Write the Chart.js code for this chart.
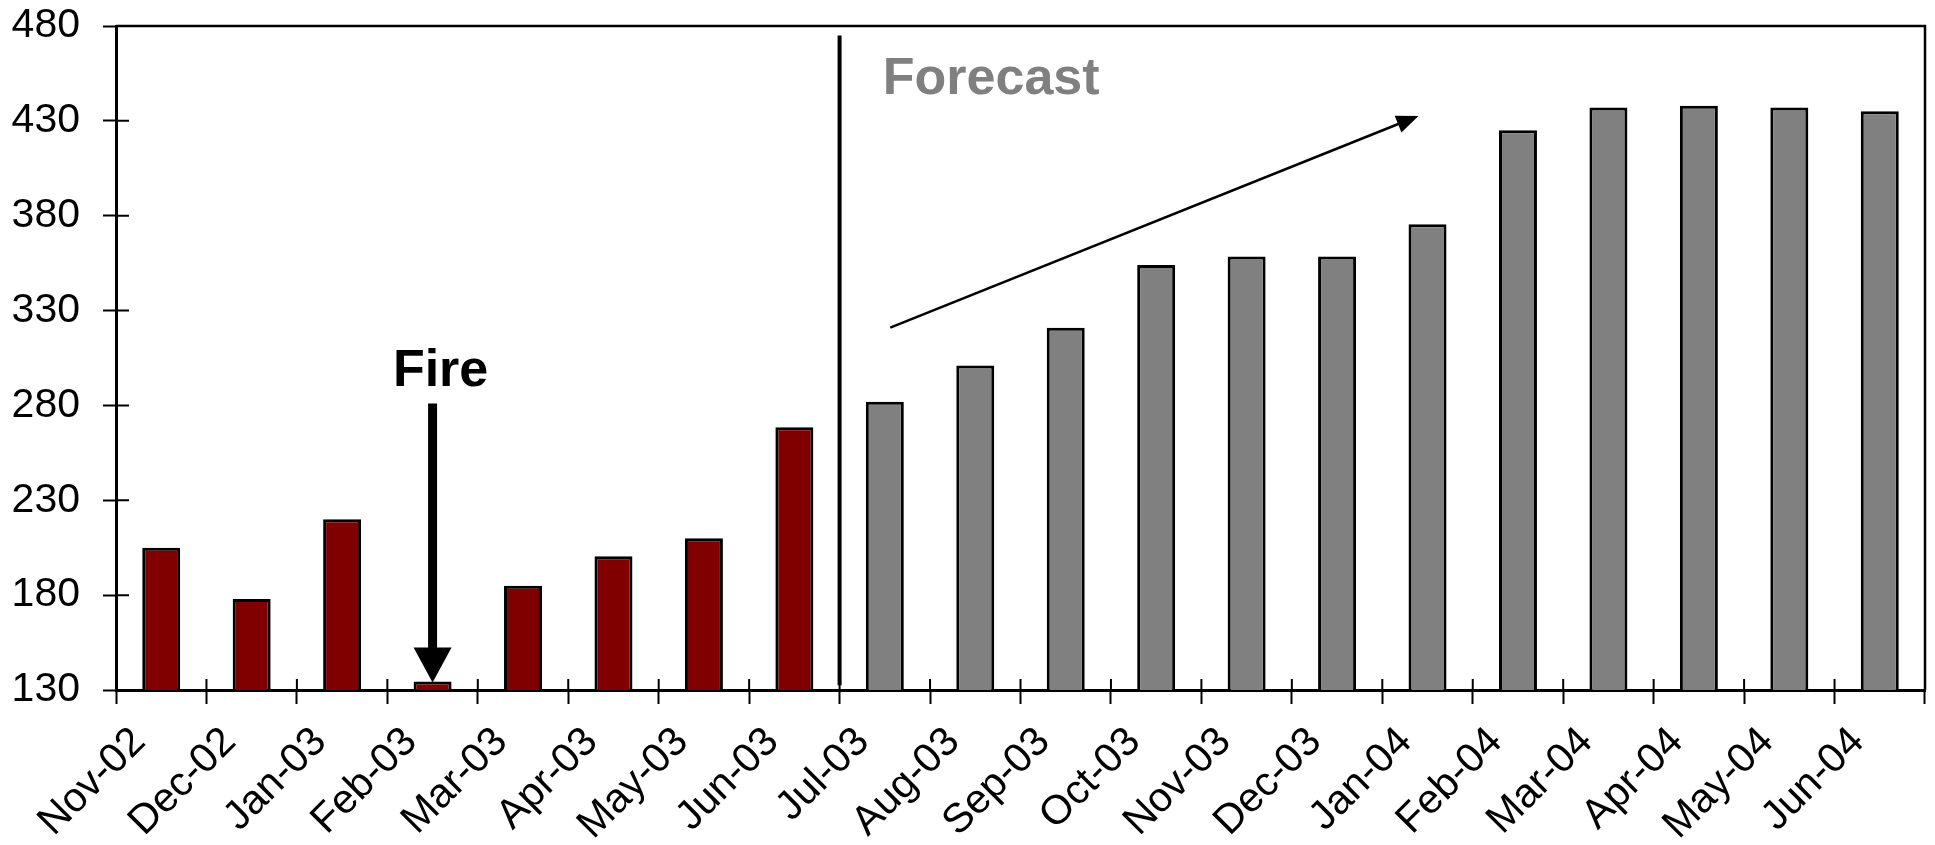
<!DOCTYPE html>
<html>
<head>
<meta charset="utf-8">
<script src="https://cdn.jsdelivr.net/npm/chart.js@4.4.1/dist/chart.umd.min.js"></script>
<style>body{margin:0;background:#fff}</style>
</head>
<body>
<canvas id="myChart" width="1935" height="845"></canvas>
<script>
// data
var months = ["Nov-02","Dec-02","Jan-03","Feb-03","Mar-03","Apr-03","May-03","Jun-03",
              "Jul-03","Aug-03","Sep-03","Oct-03","Nov-03","Dec-03","Jan-04","Feb-04",
              "Mar-04","Apr-04","May-04","Jun-04"]
var values = [205,178,220,134.5,185,200.5,210,268.5,
              282,301,321,354,358.5,358.5,375.5,425,
              437,438,437,435]
var forecastFrom = 8   // Jul-03 onwards is forecast
var yTicks = [130,180,230,280,330,380,430,480]

var colors = values.map(function(v,i){ return i < forecastFrom ? "#800000" : "#808080" })

var font = "'Liberation Sans', Arial, sans-serif"

function arrowHead(ctx, x1, y1, x2, y2, len, half){
    var ang = Math.atan2(y2-y1, x2-x1)
    ctx.beginPath()
    ctx.moveTo(x2, y2)
    ctx.lineTo(x2 - len*Math.cos(ang) + half*Math.sin(ang), y2 - len*Math.sin(ang) - half*Math.cos(ang))
    ctx.lineTo(x2 - len*Math.cos(ang) - half*Math.sin(ang), y2 - len*Math.sin(ang) + half*Math.cos(ang))
    ctx.closePath()
    ctx.fill()
}

var extras = {
    id: "extras",
    afterDraw: function(chart){
        var ctx = chart.ctx, xs = chart.scales.x, ys = chart.scales.y, a = chart.chartArea
        ctx.save()
        ctx.strokeStyle = "black"
        ctx.fillStyle = "black"
        ctx.lineWidth = 2.5
        // frame top + right
        ctx.beginPath()
        ctx.moveTo(a.left, a.top); ctx.lineTo(a.right, a.top); ctx.lineTo(a.right, a.bottom)
        ctx.stroke()
        // inner halves of tick marks
        ctx.lineWidth = 2
        ctx.beginPath()
        for (var i = 0; i <= months.length; i++){
            var px = xs.getPixelForValue(i - 0.5)
            ctx.moveTo(px, a.bottom); ctx.lineTo(px, a.bottom - 11)
        }
        yTicks.forEach(function(v){
            var py = ys.getPixelForValue(v)
            ctx.moveTo(a.left, py); ctx.lineTo(a.left + 13, py)
        })
        ctx.stroke()

        // forecast divider
        var vx = xs.getPixelForValue(forecastFrom - 0.5)
        ctx.lineWidth = 4
        ctx.beginPath()
        ctx.moveTo(vx, ys.getPixelForValue(475)); ctx.lineTo(vx, ys.getPixelForValue(132.5))
        ctx.stroke()

        ctx.font = "bold 52px " + font
        ctx.textBaseline = "alphabetic"
        ctx.fillStyle = "#808080"
        ctx.textAlign = "left"
        ctx.fillText("Forecast", xs.getPixelForValue(forecastFrom) - 2, ys.getPixelForValue(444))

        // Fire label + arrow
        ctx.fillStyle = "black"
        ctx.textAlign = "center"
        var fx = xs.getPixelForValue(3)
        ctx.fillText("Fire", fx + 8, ys.getPixelForValue(290.5))
        ctx.lineWidth = 9
        ctx.beginPath()
        ctx.moveTo(fx, ys.getPixelForValue(281)); ctx.lineTo(fx, ys.getPixelForValue(150))
        ctx.stroke()
        arrowHead(ctx, fx, ys.getPixelForValue(281), fx, ys.getPixelForValue(134), 35, 19)

        // trend arrow
        var x1 = xs.getPixelForValue(8.06), y1 = ys.getPixelForValue(321)
        var x2 = xs.getPixelForValue(13.9), y2 = ys.getPixelForValue(432.6)
        var ang = Math.atan2(y2-y1, x2-x1)
        ctx.lineWidth = 2.5
        ctx.beginPath()
        ctx.moveTo(x1, y1); ctx.lineTo(x2 - 15*Math.cos(ang), y2 - 15*Math.sin(ang))
        ctx.stroke()
        arrowHead(ctx, x1, y1, x2, y2, 22, 9)
        ctx.restore()
    }
}

var myChart = document.getElementById("myChart").getContext("2d")
var chart = new Chart(myChart, {
    type: "bar",
    data: {
        labels: months,
        datasets: [{
            data: values,
            backgroundColor: colors,
            borderColor: "black",
            borderWidth: 3,
            borderSkipped: "bottom",
            categoryPercentage: 1,
            barPercentage: 0.42
        }]
    },
    options: {
        responsive: false,
        animation: false,
        layout: { padding: { top: 26, right: 10, left: 0, bottom: 0 } },
        plugins: { legend: { display: false }, tooltip: { enabled: false } },
        scales: {
            x: {
                grid: { drawOnChartArea: false, drawTicks: true, tickLength: 14, color: "black", tickWidth: 2, offset: true },
                border: { display: true, color: "black", width: 3 },
                ticks: {
                    autoSkip: false, maxRotation: 45, minRotation: 45,
                    color: "black", font: { family: font, size: 41 },
                    padding: 14, labelOffset: -22
                },
                afterFit: function(s){ s.height = 155; s.paddingLeft = 0; s.paddingRight = 0 }
            },
            y: {
                min: yTicks[0], max: yTicks[yTicks.length-1],
                grid: { drawOnChartArea: false, drawTicks: true, tickLength: 13, color: "black", tickWidth: 2 },
                border: { display: true, color: "black", width: 3 },
                ticks: {
                    stepSize: 50, color: "black", padding: 23,
                    font: { family: font, size: 41 }
                },
                afterFit: function(s){ s.width = 116; s.paddingTop = 0; s.paddingBottom = 0 }
            }
        }
    },
    plugins: [extras]
})
</script>
</body>
</html>
